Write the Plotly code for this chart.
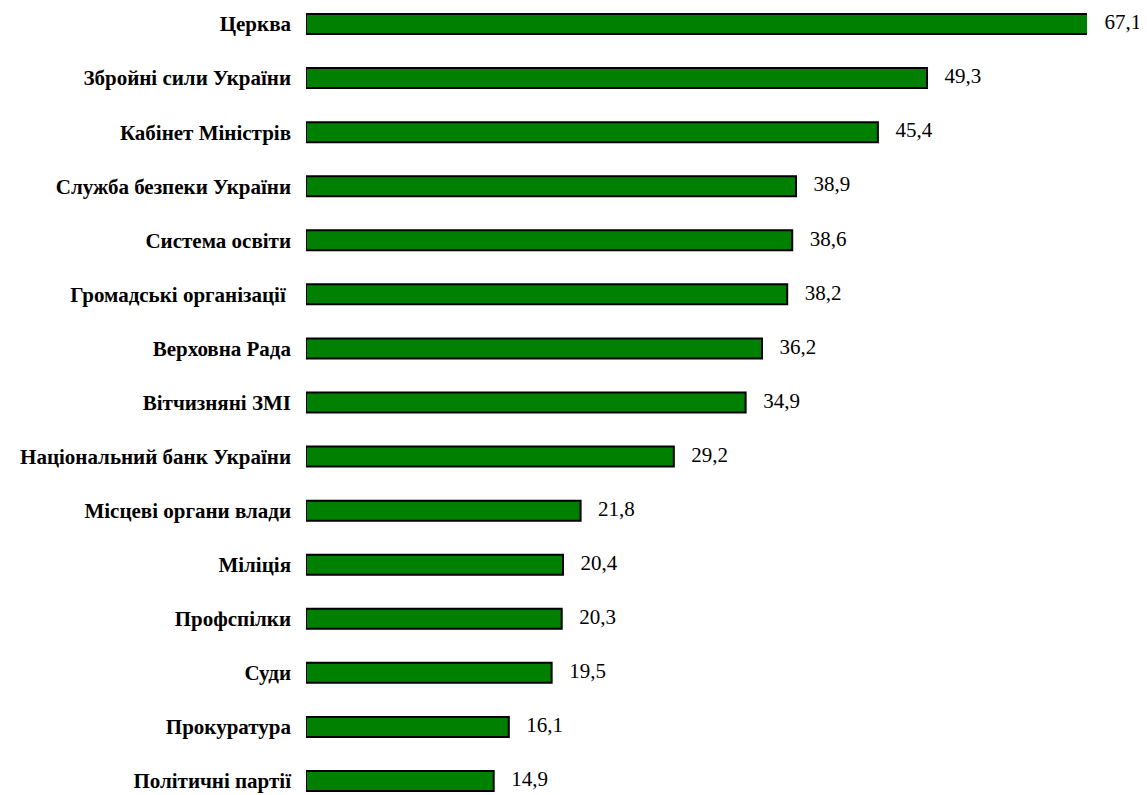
import plotly.graph_objects as go

categories = [
    "Церква", "Збройні сили України", "Кабінет Міністрів", "Служба безпеки України",
    "Система освіти", "Громадські організації ", "Верховна Рада", "Вітчизняні ЗМІ",
    "Національний банк України", "Місцеві органи влади", "Міліція", "Профспілки",
    "Суди", "Прокуратура", "Політичні партії",
]
values = [67.1, 49.3, 45.4, 38.9, 38.6, 38.2, 36.2, 34.9, 29.2, 21.8, 20.4, 20.3, 19.5, 16.1, 14.9]
labels = [f"{v:.1f}".replace(".", ",") for v in values]

X_MAX = 62  # axis end; longer bars are cut there, as in the source chart
label_x = [min(v, X_MAX) for v in values]

SERIF = "'Liberation Serif', 'Times New Roman', 'DejaVu Serif', serif"

fig = go.Figure()
fig.add_trace(go.Bar(
    x=values, y=categories, orientation="h",
    marker=dict(color="#008000", line=dict(color="black", width=2)),
    width=0.37,
    hoverinfo="x+y",
))
fig.add_trace(go.Scatter(
    x=label_x, y=categories, mode="text",
    text=["\u00a0\u00a0\u00a0\u200a" + t for t in labels],
    textposition="middle right",
    textfont=dict(family=SERIF, size=21, color="black"),
    cliponaxis=False,
    hoverinfo="skip",
))

fig.update_layout(
    width=1147, height=795,
    margin=dict(l=298, r=68, t=0, b=0),
    paper_bgcolor="white", plot_bgcolor="white",
    showlegend=False,
    font=dict(family=SERIF),
    xaxis=dict(range=[0, X_MAX], visible=False),
    yaxis=dict(
        type="category",
        categoryorder="array", categoryarray=categories,
        range=[14.407, -0.296],
        showline=False, showgrid=False, zeroline=False,
        ticks="", ticklabelstandoff=14,
        tickfont=dict(family=SERIF, size=21, color="black", weight="bold"),
    ),
)

fig.write_html("out.html")
